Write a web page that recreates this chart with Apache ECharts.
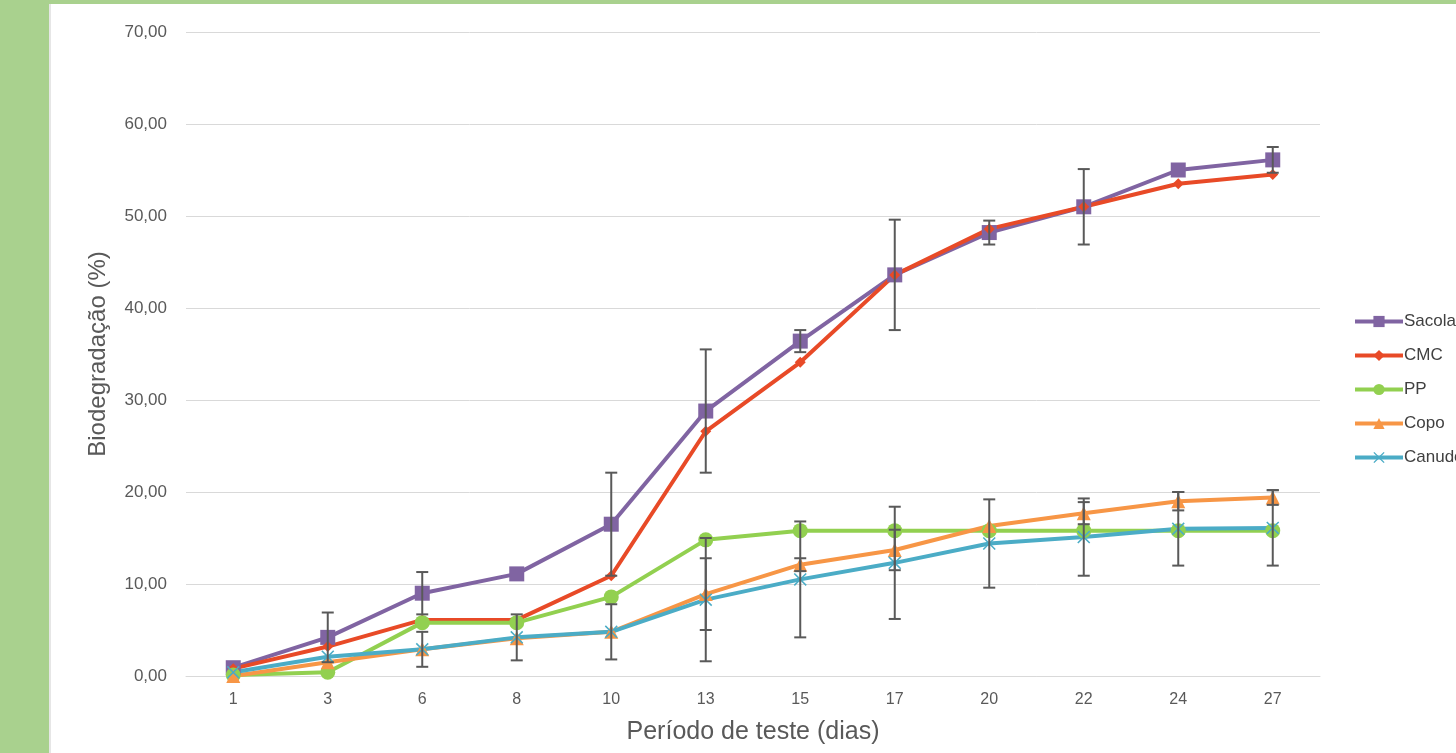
<!DOCTYPE html>
<html>
<head>
<meta charset="utf-8">
<script src="https://cdn.jsdelivr.net/npm/echarts@6/dist/echarts.min.js"></script>
<style>
html,body{margin:0;padding:0;background:#fff;}
#chart{width:1456px;height:753px;}
</style>
</head>
<body>
<div id="chart"></div>
<script>
const categories = ['1','3','6','8','10','13','15','17','20','22','24','27'];
const seriesNames = ['Sacola','CMC','PP','Copo','Canudo'];
const sacola = [0.9,4.2,9.0,11.1,16.5,28.8,36.4,43.6,48.2,51.0,55.0,56.1];
const cmc    = [0.8,3.2,6.1,6.1,10.9,26.6,34.1,43.6,48.6,51.0,53.5,54.5];
const pp     = [0.1,0.4,5.8,5.8,8.6,14.8,15.8,15.8,15.8,15.8,15.8,15.8];
const copo   = [0.0,1.5,2.9,4.1,4.8,8.9,12.1,13.7,16.3,17.7,19.0,19.4];
const canudo = [0.4,2.1,2.9,4.2,4.8,8.3,10.5,12.3,14.4,15.1,16.0,16.1];
const sacolaErr = [0,2.7,2.3,0,5.6,6.7,1.2,6.0,1.3,4.1,0,1.4];
const copoErr   = [0,0,0,0,0,3.9,0.7,2.2,0,1.2,1.0,0.8];
const canudoErr = [0,0,1.9,2.5,3.0,6.7,6.3,6.1,4.8,4.2,4.0,4.1];
const yTicks = [0,10,20,30,40,50,60,70];

const colors = ['#8064a2','#e84a27','#92d050','#f79646','#4bacc6'];
const xPath = 'path://M1,0 L6,5 L11,0 L12,1 L7,6 L12,11 L11,12 L6,7 L1,12 L0,11 L5,6 L0,1 Z';

function errRows(vals, errs){
  const out = [];
  vals.forEach((v,i)=>{ if(errs[i] > 0) out.push([i, v, errs[i]]); });
  return out;
}
const errData = [].concat(
  errRows(sacola, sacolaErr),
  errRows(copo, copoErr),
  errRows(canudo, canudoErr)
);

const chart = echarts.init(document.getElementById('chart'), null, {renderer:'canvas'});
const fontAx = '"Liberation Sans", Arial, sans-serif';

function lineSeries(name, data, color, symbol, size){
  return {
    name, type:'line', data, color,
    symbol, symbolSize:size, showSymbol:true,
    lineStyle:{width:4, color},
    itemStyle:{color},
    z:3, animation:false
  };
}

chart.setOption({
  animation:false,
  backgroundColor:'#ffffff',
  graphic:[
    {type:'rect', shape:{x:0,y:0,width:49,height:753}, style:{fill:'#a9d18e'}, z:100},
    {type:'rect', shape:{x:0,y:0,width:1456,height:4}, style:{fill:'#a9d18e'}, z:100},
    {type:'rect', shape:{x:49,y:4,width:2,height:749}, style:{fill:'#e6e6e6'}, z:100}
  ],
  grid:{left:186, right:136, top:32, bottom:77},
  legend:{
    orient:'vertical', left:1348, top:308,
    itemWidth:48, itemHeight:14, itemGap:17,
    data:seriesNames,
    lineStyle:{width:4},
    textStyle:{color:'#404040', fontSize:17, fontFamily:fontAx, padding:[0,0,0,-4]}
  },
  xAxis:{
    type:'category', data:categories, boundaryGap:true,
    axisLine:{lineStyle:{color:'#d9d9d9', width:1}},
    axisTick:{show:false},
    axisLabel:{color:'#595959', fontSize:16, fontFamily:fontAx, margin:16},
    name:'Período de teste (dias)', nameLocation:'middle', nameGap:44,
    nameTextStyle:{color:'#595959', fontSize:25, fontFamily:fontAx}
  },
  yAxis:{
    type:'value', min:yTicks[0], max:yTicks[yTicks.length-1], interval:10,
    axisLine:{show:false}, axisTick:{show:false},
    splitLine:{lineStyle:{color:'#d9d9d9', width:1}},
    axisLabel:{color:'#595959', fontSize:17, fontFamily:fontAx, margin:19,
      formatter:v=>v.toFixed(2).replace('.',',')},
    name:'Biodegradação (%)', nameLocation:'middle', nameGap:76, nameRotate:90,
    nameTextStyle:{color:'#595959', fontSize:24, fontFamily:fontAx}
  },
  series:[
    lineSeries('Sacola', sacola, colors[0], 'rect', 15),
    lineSeries('CMC', cmc, colors[1], 'diamond', 11),
    lineSeries('PP', pp, colors[2], 'circle', 15),
    lineSeries('Copo', copo, colors[3], 'triangle', 14),
    lineSeries('Canudo', canudo, colors[4], xPath, 13),
    {
      type:'custom', name:'err', data:errData, z:5, silent:true,
      renderItem:function(params, api){
        const i = api.value(0), v = api.value(1), e = api.value(2);
        const top = api.coord([i, v+e]);
        const bot = api.coord([i, v-e]);
        const w = 6;
        const st = {stroke:'#595959', lineWidth:2};
        return {type:'group', children:[
          {type:'line', shape:{x1:top[0],y1:top[1],x2:bot[0],y2:bot[1]}, style:st},
          {type:'line', shape:{x1:top[0]-w,y1:top[1],x2:top[0]+w,y2:top[1]}, style:st},
          {type:'line', shape:{x1:bot[0]-w,y1:bot[1],x2:bot[0]+w,y2:bot[1]}, style:st}
        ]};
      },
      encode:{x:0, y:1}
    }
  ]
});
</script>
</body>
</html>
